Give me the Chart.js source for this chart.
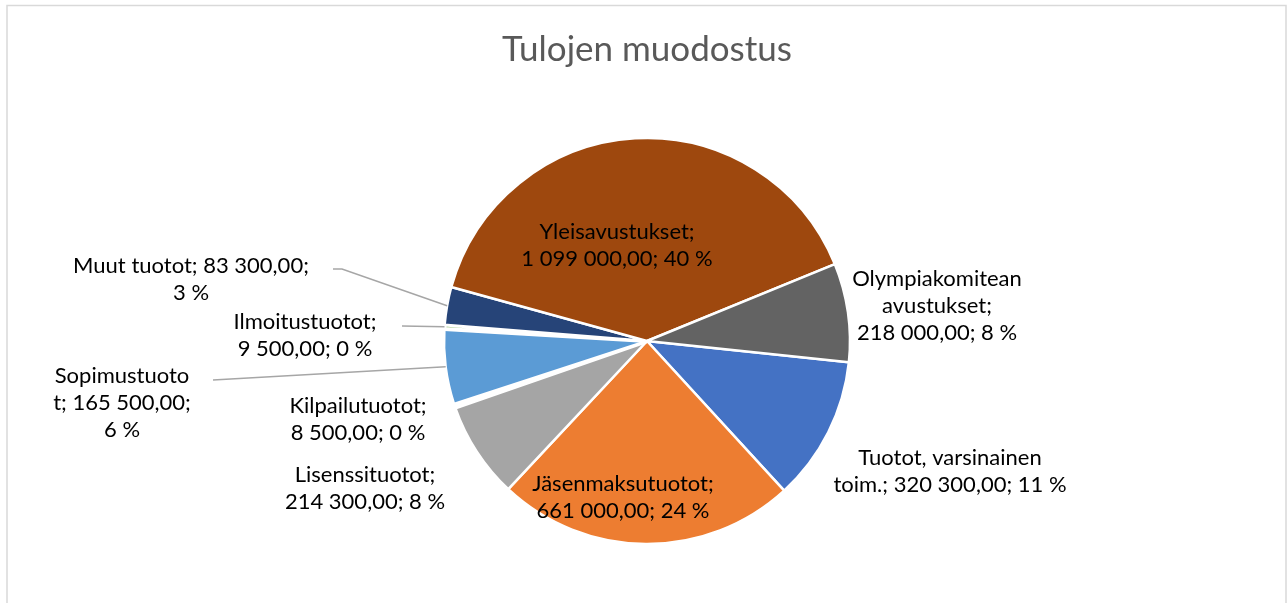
<!DOCTYPE html>
<html>
<head>
<meta charset="utf-8">
<script src="https://cdn.jsdelivr.net/npm/chart.js@4.4.1/dist/chart.umd.min.js"></script>
<style>
  html, body { margin: 0; padding: 0; background: #fff; }
  canvas { display: block; }
</style>
</head>
<body>
<canvas id="pie" width="1287" height="603"></canvas>
<script>
// data, in the order Excel draws the slices (clockwise)
const categories = ['Tuotot, varsinainen toim.', 'Jäsenmaksutuotot', 'Lisenssituotot', 'Kilpailutuotot',
    'Sopimustuotot', 'Ilmoitustuotot', 'Muut tuotot', 'Yleisavustukset', 'Olympiakomitean avustukset'];
const values = [320300, 661000, 214300, 8500, 165500, 9500, 83300, 1099000, 218000];
const colors = ['#4472C4', '#ED7D31', '#A5A5A5', '#FFC000', '#5B9BD5', '#70AD47', '#264478', '#9E480E', '#636363'];
const chartTitle = 'Tulojen muodostus';

// label layout (offsets from pie centre, wrap width per line, leader elbows)
const labelOffset = [[303, 130], [-24, 156], [-282, 147], [-289, 78], [-525, 62], [-342, -6], [-456, -62], [-30, -96], [290, -35]];
const labelWrap = [[236], [210], [185], [170], [136, 150], [170], [255], [210], [190]];
const leaders = { 4: [[-434, 39]], 5: [[-245, -15]], 6: [[-314, -72], [-305, -72]] };

const LABEL_FONT = '22px Lato';
const LINE_H = 27;
const NB = '\u00A0';

const total = values.reduce((a, b) => a + b, 0);
const fmt = v => String(v).replace(/\B(?=(\d{3})+(?!\d))/g, NB) + ',00';

// percentages that add up to 100, like Excel does
const percents = (() => {
    const raw = values.map(v => v / total * 100);
    const out = raw.map(Math.floor);
    let left = 100 - out.reduce((a, b) => a + b, 0);
    raw.map((r, i) => [r - Math.floor(r), i])
        .sort((a, b) => b[0] - a[0])
        .slice(0, left)
        .forEach(([, i]) => out[i]++);
    return out;
})();

const wrapText = (ctx, text, widths) => {
    const maxW = () => widths[Math.min(lines.length, widths.length - 1)];
    const words = text.split(' ');
    const lines = [];
    let cur = '';
    words.forEach(w => {
        const test = cur ? cur + ' ' + w : w;
        if (ctx.measureText(test).width <= maxW()) {
            cur = test;
            return;
        }
        if (cur) lines.push(cur);
        cur = w;
        // word alone too long: break it by characters
        while (ctx.measureText(cur).width > maxW() && cur.length > 1) {
            let k = cur.length - 1;
            while (k > 1 && ctx.measureText(cur.slice(0, k)).width > maxW()) k--;
            lines.push(cur.slice(0, k));
            cur = cur.slice(k);
        }
    });
    if (cur) lines.push(cur);
    return lines;
};

const framePlugin = {
    id: 'frame',
    beforeDraw(chart) {
        const ctx = chart.ctx;
        ctx.save();
        ctx.fillStyle = '#fff';
        ctx.fillRect(0, 0, chart.width, chart.height);
        ctx.strokeStyle = '#d9d9d9';
        ctx.lineWidth = 1.5;
        ctx.strokeRect(7, 5.5, chart.width - 8, chart.height + 20);
        ctx.restore();
    }
};

const labelPlugin = {
    id: 'sliceLabels',
    afterDatasetsDraw(chart) {
        const ctx = chart.ctx;
        const meta = chart.getDatasetMeta(0);
        const area = chart.chartArea;
        ctx.save();

        // title
        ctx.font = '35px Lato';
        ctx.fillStyle = '#595959';
        ctx.textAlign = 'center';
        ctx.textBaseline = 'middle';
        ctx.fillText(chartTitle, (area.left + area.right) / 2, 50);

        ctx.font = LABEL_FONT;
        meta.data.forEach((arc, i) => {
            const p = arc.getProps(['x', 'y', 'startAngle', 'endAngle', 'outerRadius'], true);
            const mid = (p.startAngle + p.endAngle) / 2;
            const ex = p.x + Math.cos(mid) * p.outerRadius;
            const ey = p.y + Math.sin(mid) * p.outerRadius;

            if (leaders[i]) {
                ctx.strokeStyle = '#a6a6a6';
                ctx.lineWidth = 1.5;
                ctx.beginPath();
                leaders[i].forEach(([dx, dy], k) => {
                    if (k === 0) ctx.moveTo(p.x + dx, p.y + dy);
                    else ctx.lineTo(p.x + dx, p.y + dy);
                });
                ctx.lineTo(ex, ey);
                ctx.stroke();
            }

            const text = categories[i] + '; ' + fmt(values[i]) + '; ' + percents[i] + NB + '%';
            const lines = wrapText(ctx, text, labelWrap[i]);
            const lx = p.x + labelOffset[i][0];
            const ly = p.y + labelOffset[i][1];
            ctx.fillStyle = '#000';
            lines.forEach((ln, k) => {
                ctx.fillText(ln, lx, ly + (k - (lines.length - 1) / 2) * LINE_H);
            });
        });
        ctx.restore();
    }
};

new Chart(document.getElementById('pie'), {
    type: 'pie',
    data: {
        labels: categories,
        datasets: [{
            data: values,
            backgroundColor: colors,
            borderColor: '#ffffff',
            // slivers under 1 % show as plain white gaps, as in Excel
            borderWidth: values.map(v => v / total < 0.01 ? 4 : 2.5)
        }]
    },
    options: {
        responsive: false,
        devicePixelRatio: 1,
        animation: false,
        rotation: 96,
        radius: 203,
        layout: { padding: { left: 7, right: 0, top: 79, bottom: 0 } },
        plugins: {
            legend: { display: false },
            tooltip: { enabled: false },
            title: { display: false }
        }
    },
    plugins: [framePlugin, labelPlugin]
});
</script>
</body>
</html>
